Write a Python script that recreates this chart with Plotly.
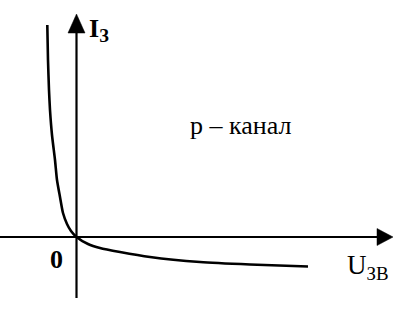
import plotly.graph_objects as go

# Curve data (gate voltage vs gate current) (arbitrary units)
u_left = [-29.2, -28.5, -27.5, -26.5, -24.5, -21.5, -19.5, -16.5, -13.5, -9.5, -5.5, 0.0]
i_left = [212, 177, 147, 127, 102, 77, 57, 40, 24, 13, 6, 0]
u_right = [0.0, 11.5, 23.5, 43.5, 73.5, 123.5, 173.5, 231.5]
i_right = [0, -7, -11, -15, -20, -25, -27.5, -29.5]

# axis extents
x_min, x_max = -76.5, 329.5
y_min, y_max = -84, 237
h_axis_end = 316.5
v_axis_top = 223
v_axis_bottom = -61

FONT = "Liberation Serif"

fig = go.Figure()
fig.add_trace(go.Scatter(x=u_left + u_right[1:], y=i_left + i_right[1:], mode="lines",
                         line=dict(color="black", width=2.6, shape="spline", smoothing=0.6),
                         hoverinfo="skip", showlegend=False))

shapes = [
    dict(type="line", x0=x_min, x1=h_axis_end - 14, y0=0, y1=0, line=dict(color="black", width=2.2)),
    dict(type="path", path=f"M {h_axis_end} 0 L {h_axis_end-16} 8.5 L {h_axis_end-16} -8.5 Z",
         fillcolor="black", line=dict(color="black", width=0.5)),
    dict(type="line", x0=0, x1=0, y0=v_axis_bottom, y1=v_axis_top - 18, line=dict(color="black", width=2.2)),
    dict(type="path", path=f"M 0 {v_axis_top} L -8.5 {v_axis_top-19} L 8.5 {v_axis_top-19} Z",
         fillcolor="black", line=dict(color="black", width=0.5)),
]

annotations = [
    dict(x=10, y=207, text="<b>I<sub>З</sub></b>", showarrow=False, xanchor="left", yanchor="middle",
         font=dict(family=FONT, size=26, color="black")),
    dict(x=163.5, y=112, text="p – канал", showarrow=False, xanchor="center", yanchor="middle",
         font=dict(family=FONT, size=26, color="black")),
    dict(x=-20, y=-22, text="<b>0</b>", showarrow=False, xanchor="center", yanchor="middle",
         font=dict(family=FONT, size=26, color="black")),
    dict(x=268, y=-30, text="U<sub>ЗВ</sub>", showarrow=False, xanchor="left", yanchor="middle",
         font=dict(family=FONT, size=27, color="black")),
]

fig.update_layout(
    width=406, height=321, margin=dict(l=0, r=0, t=0, b=0),
    paper_bgcolor="white", plot_bgcolor="white",
    font=dict(family=FONT),
    xaxis=dict(range=[x_min, x_max], visible=False, fixedrange=True),
    yaxis=dict(range=[y_min, y_max], visible=False, fixedrange=True),
    shapes=shapes, annotations=annotations, showlegend=False,
)
fig.write_html("out.html", config={"displayModeBar": False})
